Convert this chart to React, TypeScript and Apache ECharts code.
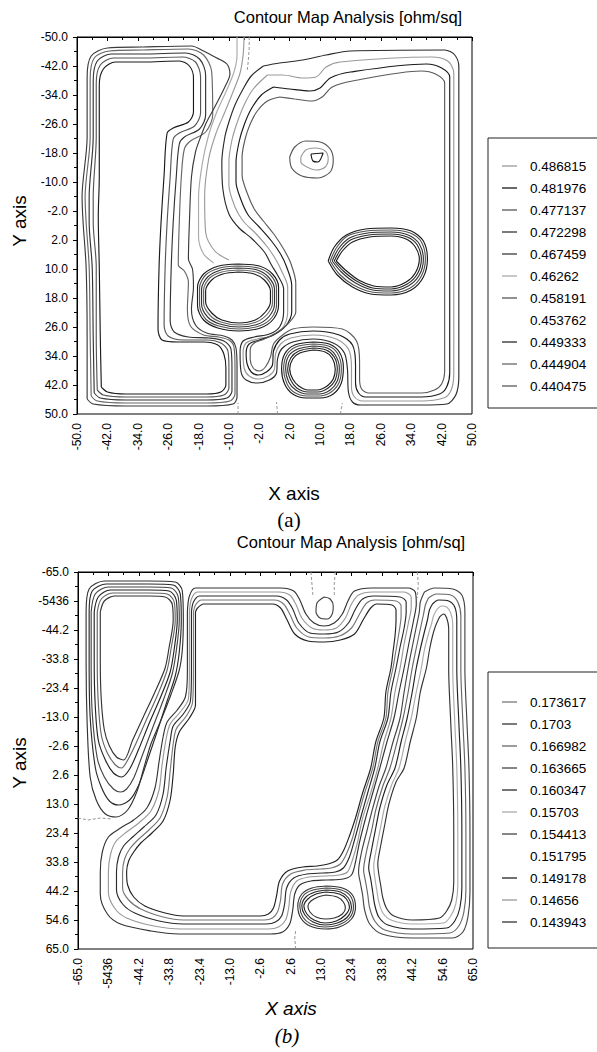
import React, { useEffect, useRef } from "react";
import * as echarts from "echarts";

// ---------- tick labels ----------
const A_X_LABELS = ["-50.0", "-42.0", "-34.0", "-26.0", "-18.0", "-10.0", "-2.0", "2.0", "10.0", "18.0", "26.0", "34.0", "42.0", "50.0"];
const A_Y_LABELS = ["-50.0", "-42.0", "-34.0", "-26.0", "-18.0", "-10.0", "-2.0", "2.0", "10.0", "18.0", "26.0", "34.0", "42.0", "50.0"];
const B_X_LABELS = ["-65.0", "-5436", "-44.2", "-33.8", "-23.4", "-13.0", "-2.6", "2.6", "13.0", "23.4", "33.8", "44.2", "54.6", "65.0"];
const B_Y_LABELS = ["-65.0", "-5436", "-44.2", "-33.8", "-23.4", "-13.0", "-2.6", "2.6", "13.0", "23.4", "33.8", "44.2", "54.6", "65.0"];

// ---------- contour levels (legend) ----------
const A_LEVELS = ["0.486815", "0.481976", "0.477137", "0.472298", "0.467459", "0.46262", "0.458191", "0.453762", "0.449333", "0.444904", "0.440475"];
const A_LEVEL_COLORS = ["#9a9a9a", "#1a1a1a", "#555555", "#333333", "#3a3a3a", "#aaaaaa", "#555555", "#ffffff", "#2a2a2a", "#666666", "#5a5a5a"];
const B_LEVELS = ["0.173617", "0.1703", "0.166982", "0.163665", "0.160347", "0.15703", "0.154413", "0.151795", "0.149178", "0.14656", "0.143943"];
const B_LEVEL_COLORS = ["#777777", "#333333", "#666666", "#444444", "#2a2a2a", "#aaaaaa", "#444444", "#ffffff", "#222222", "#999999", "#333333"];

// ---------- chart (a) contour lines, in grid units (30 per x label step, 29 per y label step) ----------
const A_LG1 = [[24,350],[23,300],[22,230],[21,180],[22,140],[22,90],[22,48],[26,32],[38,25],[65,25],[101,24],[111,29],[115,41],[115,75],[110,85],[95,91],[89,96],[86,138],[83,185],[81,231],[80,292],[84,303],[100,305],[125,305],[139,308],[145,317],[147,331],[147,348],[142,355],[128,357],[48,357],[30,355],[24,350]];
const A_LG2 = [[20,353],[19,300],[19,230],[16,185],[16,160],[19,100],[19,46],[23,28],[36,21],[65,21],[104,20],[117,25],[122,40],[122,76],[116,89],[101,96],[95,102],[92,140],[89,185],[87,231],[86,288],[90,299],[105,303],[128,303],[142,306],[149,314],[150,331],[150,351],[145,358],[128,360],[48,360],[26,358],[20,353]];
const A_LG3 = [[17,356],[16,300],[15,230],[12,185],[12,160],[16,100],[16,44],[20,24],[34,17],[65,17],[107,16],[121,22],[127,38],[127,78],[121,92],[106,100],[101,107],[98,140],[95,185],[93,231],[92,284],[96,295],[110,300],[130,301],[145,304],[152,312],[153,331],[153,354],[148,361],[128,363],[48,363],[23,361],[17,356]];
const A_LG4 = [[14,359],[13,300],[12,230],[9,185],[8,160],[13,100],[13,42],[17,21],[32,14],[65,13],[110,12],[125,18],[133,35],[134,78],[127,95],[112,104],[106,112],[103,140],[101,185],[100,228],[106,234],[110,245],[109,272],[112,289],[125,298],[140,300],[150,303],[155,310],[156,331],[156,357],[151,364],[128,366],[48,366],[20,364],[14,359]];
const A_LG5 = [[10,362],[10,300],[9,230],[6,185],[5,160],[10,100],[10,40],[14,19],[30,11],[65,10],[113,9],[125,14],[138,21],[148,27],[151,37],[146,50],[136,70],[128,85],[122,100],[117,115],[113,140],[111,185],[110,222],[114,232],[115,250],[113,272],[117,288],[128,296],[145,299],[153,303],[157,311],[158,331],[158,360],[154,367],[128,369],[48,369],[16,367],[10,362]];
const A_RG1 = [[184,29],[200,26],[223,23],[246,18],[270,14],[363,13],[373,18],[377,30],[377,340],[374,358],[365,367],[340,368],[280,368],[272,365],[268,355],[267,332],[264,316],[253,306],[233,302],[213,305],[202,312],[198,322],[197,336],[190,343],[178,346],[167,343],[162,335],[161,315],[164,304],[175,300],[190,297],[200,290],[204,275],[204,252],[198,238],[192,228],[185,215],[172,201],[160,191],[150,177],[144,152],[143,125],[146,100],[150,85],[156,68],[164,52],[172,39],[184,29]];
const A_RG2 = [[188,38],[203,38],[223,41],[236,40],[246,30],[260,25],[350,20],[366,24],[372,36],[372,338],[369,354],[362,361],[340,364],[282,364],[274,360],[271,350],[271,330],[268,312],[256,302],[233,298],[211,301],[201,307],[196,317],[195,332],[189,339],[179,342],[170,339],[165,331],[164,316],[167,306],[178,302],[192,299],[203,291],[208,275],[208,250],[202,234],[196,222],[188,210],[176,196],[164,184],[156,170],[150,148],[150,125],[153,103],[158,86],[165,68],[174,52],[188,38]];
const A_RG3 = [[194,50],[210,52],[230,54],[240,51],[250,41],[270,35],[345,27],[360,31],[368,40],[368,336],[365,350],[358,357],[340,360],[285,360],[278,356],[275,346],[275,328],[272,308],[259,298],[233,294],[210,297],[200,303],[194,314],[193,328],[187,335],[179,338],[172,335],[168,327],[167,316],[170,307],[180,303],[194,298],[206,289],[212,275],[212,248],[207,230],[201,217],[192,204],[180,190],[169,178],[162,163],[157,145],[157,125],[160,105],[165,88],[172,72],[182,58],[194,50]];
const A_RG4 = [[200,60],[215,62],[232,64],[242,60],[252,50],[272,44],[340,34],[354,37],[363,46],[363,334],[360,347],[353,353],[340,356],[288,356],[281,352],[279,342],[279,325],[276,304],[262,292],[233,290],[213,292],[203,298],[194,307],[191,320],[186,330],[180,334],[174,331],[171,322],[171,313],[175,306],[185,302],[198,295],[209,286],[216,275],[216,246],[211,226],[204,212],[195,198],[184,184],[175,172],[168,156],[163,138],[163,120],[166,102],[171,87],[178,74],[188,64],[200,60]];
const A_M1 = [[158,0],[158,18],[155,35],[147,55],[138,75],[130,98],[124,125],[120,160],[120,200],[125,217],[135,226]];
const A_M2 = [[165,0],[164,18],[161,36],[154,55],[146,75],[137,97],[130,122],[126,160],[127,195],[136,214],[150,223]];
const A_C1A = [[159,227],[180,229],[193,237],[199,250],[199,268],[194,282],[181,291],[160,294],[139,291],[125,283],[119,269],[119,250],[125,237],[140,229],[159,227]];
const A_C1B = [[159,229],[179,231],[191,238],[197,251],[197,268],[192,281],[180,289],[160,292],[140,289],[127,282],[121,268],[121,251],[127,238],[141,231],[159,229]];
const A_C1C = [[159,231],[178,233],[189,240],[195,252],[195,267],[190,279],[179,287],[160,290],[141,287],[129,280],[123,267],[123,252],[129,240],[142,233],[159,231]];
const A_C1D = [[159,233],[177,235],[187,241],[193,253],[193,266],[188,277],[177,285],[160,288],[142,285],[131,278],[125,266],[125,253],[131,241],[143,235],[159,233]];
const A_C1E = [[159,235],[175,237],[185,243],[191,254],[191,265],[186,275],[176,283],[160,286],[143,283],[133,276],[127,265],[127,254],[133,243],[144,237],[159,235]];
const A_C2A = [[233,305],[249,307],[259,315],[263,330],[261,346],[253,357],[240,361],[226,361],[213,357],[205,347],[202,332],[205,317],[215,308],[233,305]];
const A_C2B = [[233,307],[248,309],[257,316],[261,331],[259,345],[251,355],[239,359],[227,359],[214,355],[207,346],[204,332],[207,318],[216,310],[233,307]];
const A_C2C = [[233,309],[247,311],[255,318],[259,331],[257,344],[250,353],[239,357],[227,357],[216,353],[209,345],[206,332],[209,319],[218,312],[233,309]];
const A_C2D = [[233,311],[246,313],[254,320],[257,332],[255,343],[248,351],[238,355],[228,355],[217,351],[211,343],[208,332],[211,321],[219,314],[233,311]];
const A_C2E = [[233,313],[245,315],[252,321],[255,332],[253,342],[247,349],[237,353],[228,353],[219,349],[213,342],[210,332],[213,322],[220,316],[233,313]];
const A_EA = [[248,224],[254,210],[266,198],[285,192],[310,191],[330,194],[342,204],[346,222],[342,240],[330,253],[310,258],[290,257],[272,250],[257,238],[248,224]];
const A_EB = [[250,224],[256,211],[267,199],[286,194],[310,193],[329,196],[340,205],[344,222],[340,239],[329,251],[310,256],[291,255],[273,248],[259,237],[250,224]];
const A_EC = [[252,224],[258,212],[269,201],[287,196],[310,195],[327,198],[338,207],[342,222],[338,238],[327,249],[310,254],[292,253],[275,246],[261,235],[252,224]];
const A_ED = [[254,224],[260,213],[270,203],[288,198],[310,197],[326,200],[336,208],[340,222],[336,237],[326,247],[310,252],[292,251],[276,244],[263,234],[254,224]];
const A_EE = [[256,224],[262,214],[272,205],[289,200],[310,199],[325,202],[334,210],[338,222],[334,236],[325,245],[310,250],[293,249],[278,243],[265,233],[256,224]];
const A_PA = [[210,120],[215,110],[226,104],[240,105],[250,112],[253,123],[250,135],[238,141],[222,139],[212,131],[210,120]];
const A_PB = [[221,120],[226,113],[235,111],[245,114],[248,122],[245,130],[236,133],[227,130],[221,125],[221,120]];
const A_PC = [[231,117],[243,116],[238,125],[233,124],[231,117]];
const A_DASHES = [
  [[170,0],[170,12],[169,25],[168,34]],
  [[159,377],[159,366]],
  [[198,377],[197,365]],
  [[260,377],[262,366]],
];

// ---------- chart (b) contour lines ----------
const B_TD1 = [[22,40],[26,29],[36,24],[70,24],[86,25],[93,32],[94,48],[90,75],[86,96],[76,120],[64,146],[54,168],[45,188],[38,185],[31,174],[26,158],[23,128],[22,90],[22,40]];
const B_TD2 = [[19,40],[23,27],[34,21],[70,21],[88,22],[95,30],[96,48],[92,76],[88,98],[79,122],[67,149],[57,172],[48,190],[43,196],[37,193],[29,181],[23,163],[20,130],[19,90],[19,40]];
const B_TD3 = [[16,40],[20,25],[32,18],[70,18],[90,19],[97,28],[98,48],[95,77],[91,100],[82,124],[70,152],[60,177],[51,197],[43,205],[35,201],[27,188],[20,168],[17,133],[16,90],[16,40]];
const B_TD4 = [[13,40],[17,22],[30,15],[70,15],[92,16],[99,25],[100,48],[97,79],[93,102],[85,126],[74,155],[64,182],[55,206],[48,217],[42,220],[35,217],[26,205],[19,186],[14,140],[13,90],[13,40]];
const B_TD5 = [[11,40],[14,19],[28,12],[70,12],[94,13],[101,22],[102,48],[100,80],[96,104],[88,129],[78,160],[68,190],[60,213],[51,228],[40,233],[31,229],[23,215],[17,195],[12,145],[11,90],[11,40]];
const B_TD6 = [[8,40],[11,17],[26,9],[70,9],[96,10],[103,19],[104,48],[103,78],[100,98],[92,122],[82,148],[72,172],[65,196],[58,220],[49,238],[38,245],[27,242],[18,228],[12,205],[9,150],[8,90],[8,40]];
const B_BG1 = [[108,40],[110,24],[116,16],[160,16],[200,16],[213,19],[219,28],[225,42],[233,51],[243,54],[253,51],[261,42],[267,28],[273,19],[290,16],[326,16],[333,20],[334,32],[331,50],[327,70],[322,96],[317,120],[312,146],[305,170],[298,196],[291,221],[284,246],[278,270],[274,290],[270,303],[262,307],[246,308],[230,309],[219,313],[214,322],[212,338],[209,352],[202,360],[190,362],[100,362],[72,359],[42,352],[29,342],[22,322],[22,300],[24,280],[30,265],[42,256],[55,248],[68,236],[76,216],[80,190],[84,165],[88,150],[98,138],[106,125],[108,100],[108,40]];
const B_BG2 = [[110,40],[112,27],[118,20],[160,20],[198,20],[209,23],[215,32],[221,46],[231,56],[243,58],[255,56],[264,46],[270,32],[277,23],[291,20],[322,20],[329,25],[329,35],[326,52],[322,72],[318,96],[313,120],[309,146],[302,170],[296,196],[289,221],[281,246],[276,270],[271,288],[266,300],[258,303],[244,304],[228,305],[216,309],[210,320],[208,336],[205,348],[198,355],[188,357],[102,357],[75,354],[48,346],[36,336],[30,320],[30,300],[32,283],[37,270],[48,260],[60,251],[72,239],[80,218],[83,193],[87,167],[91,152],[101,140],[109,127],[110,100],[110,40]];
const B_BG3 = [[112,40],[114,30],[120,24],[160,24],[196,24],[206,28],[212,37],[218,51],[229,61],[243,62],[257,60],[267,51],[274,37],[281,27],[292,24],[318,25],[324,30],[324,40],[322,56],[318,75],[314,96],[309,120],[306,146],[298,170],[293,196],[286,221],[279,246],[273,268],[268,285],[262,296],[254,300],[242,301],[226,302],[213,306],[206,316],[204,332],[201,344],[195,350],[186,352],[104,352],[80,349],[56,341],[44,332],[38,318],[38,300],[40,285],[45,274],[54,265],[65,255],[77,243],[84,222],[87,196],[91,169],[94,154],[104,142],[111,129],[112,100],[112,40]];
const B_BG4 = [[114,40],[116,33],[122,28],[160,28],[194,28],[203,32],[209,42],[216,56],[228,65],[243,66],[258,64],[270,56],[278,42],[285,31],[293,28],[314,29],[319,34],[319,44],[317,60],[314,78],[311,96],[306,120],[304,146],[296,170],[291,196],[283,221],[276,246],[271,266],[265,282],[259,292],[250,296],[239,297],[224,298],[210,302],[202,312],[200,328],[197,340],[192,346],[184,348],[104,348],[84,345],[62,337],[50,328],[44,316],[44,300],[46,287],[51,277],[59,268],[70,258],[81,246],[88,225],[91,199],[94,172],[97,157],[107,144],[113,131],[114,100],[114,40]];
const B_BG5 = [[116,40],[118,36],[124,32],[160,32],[192,32],[200,36],[206,47],[214,62],[227,69],[243,70],[259,68],[273,62],[282,47],[289,36],[295,32],[310,33],[314,38],[314,48],[313,64],[311,80],[309,96],[304,120],[302,146],[294,170],[289,196],[281,221],[274,246],[268,264],[262,279],[256,288],[247,292],[236,294],[222,295],[207,299],[199,309],[196,324],[193,336],[188,342],[180,344],[104,344],[86,341],[66,334],[55,325],[49,313],[48,300],[50,289],[55,280],[62,271],[73,261],[84,249],[91,228],[94,202],[96,175],[100,160],[110,146],[116,133],[116,100],[116,40]];
const B_RR1 = [[342,20],[352,16],[370,17],[379,23],[382,40],[382,96],[384,150],[386,196],[387,260],[387,320],[385,345],[380,360],[370,366],[330,366],[300,362],[288,352],[283,338],[281,323],[279,312],[277,300],[280,280],[285,260],[290,240],[297,215],[304,196],[311,170],[318,146],[322,120],[326,96],[330,75],[334,55],[337,40],[338,30],[342,20]];
const B_RR2 = [[346,26],[354,22],[368,23],[375,30],[378,44],[378,96],[380,150],[382,196],[383,260],[383,318],[381,340],[376,354],[367,361],[330,362],[303,358],[293,349],[288,336],[286,322],[284,310],[282,298],[285,279],[290,258],[294,238],[301,214],[308,196],[315,170],[321,146],[326,120],[330,96],[334,76],[338,57],[341,43],[343,33],[346,26]];
const B_RR3 = [[350,32],[356,28],[366,29],[372,35],[374,48],[374,96],[376,150],[378,196],[379,260],[379,316],[377,336],[372,349],[364,356],[330,357],[306,353],[297,345],[293,333],[291,320],[289,307],[287,296],[290,277],[294,256],[298,236],[305,213],[313,196],[319,170],[325,146],[330,120],[334,96],[338,77],[342,60],[345,48],[347,38],[350,32]];
const B_RR4 = [[354,38],[359,34],[364,35],[368,41],[370,52],[370,96],[372,150],[374,196],[375,260],[375,313],[373,332],[368,344],[361,351],[330,352],[309,348],[301,341],[297,330],[295,318],[293,305],[292,294],[295,275],[299,254],[303,234],[310,212],[317,196],[323,170],[329,146],[334,120],[339,96],[342,78],[346,62],[349,52],[351,44],[354,38]];
const B_RR5 = [[357,45],[361,42],[364,46],[366,56],[366,96],[368,150],[370,196],[371,260],[371,310],[369,328],[364,339],[357,346],[330,348],[312,344],[305,337],[301,326],[299,314],[297,302],[296,292],[299,273],[303,252],[307,232],[314,210],[322,196],[328,170],[334,146],[338,120],[344,96],[347,78],[350,64],[353,54],[357,45]];
const B_BC1 = [[245,314],[261,316],[271,323],[274,335],[270,347],[258,355],[244,357],[229,354],[220,346],[217,334],[221,322],[231,316],[245,314]];
const B_BC2 = [[245,316],[260,318],[269,324],[272,335],[268,346],[257,353],[244,355],[230,352],[222,345],[219,334],[223,323],[232,318],[245,316]];
const B_BC3 = [[245,318],[259,320],[267,326],[270,335],[266,345],[256,351],[244,353],[232,350],[224,343],[221,334],[225,325],[234,320],[245,318]];
const B_BC4 = [[245,320],[258,322],[265,327],[268,335],[264,343],[255,349],[244,351],[233,348],[226,342],[223,334],[227,327],[235,322],[245,320]];
const B_BC5 = [[245,323],[256,325],[262,330],[264,336],[261,342],[253,346],[244,347],[235,345],[229,340],[227,334],[230,329],[237,325],[245,323]];
const B_TC = [[243,25],[249,27],[252,34],[251,42],[246,47],[239,46],[235,40],[236,31],[243,25]];
const B_DASHES = [
  [[230,0],[231,12],[232,24]],
  [[254,0],[253,12],[253,24]],
  [[335,0],[336,12],[335,26]],
  [[215,377],[214,366],[215,358]],
  [[0,246],[10,248],[22,246],[34,247]],
];

// [path, level index]
const A_CONTOURS: [number[][], number][] = [
  [A_LG1, 1], [A_LG2, 6], [A_LG3, 3], [A_LG4, 9], [A_LG5, 4],
  [A_RG1, 8], [A_RG2, 0], [A_RG3, 1], [A_RG4, 10],
  [A_M1, 5], [A_M2, 0],
  [A_C1A, 1], [A_C1B, 2], [A_C1C, 3], [A_C1D, 9], [A_C1E, 1],
  [A_C2A, 1], [A_C2B, 6], [A_C2C, 3], [A_C2D, 8], [A_C2E, 1],
  [A_EA, 1], [A_EB, 2], [A_EC, 3], [A_ED, 8], [A_EE, 1],
  [A_PA, 6], [A_PB, 0], [A_PC, 1],
];
const B_CONTOURS: [number[][], number][] = [
  [B_TD1, 1], [B_TD2, 2], [B_TD3, 8], [B_TD4, 3], [B_TD5, 4], [B_TD6, 10],
  [B_BG1, 1], [B_BG2, 9], [B_BG3, 4], [B_BG4, 0], [B_BG5, 8],
  [B_RR1, 3], [B_RR2, 2], [B_RR3, 8], [B_RR4, 5], [B_RR5, 1],
  [B_BC1, 1], [B_BC2, 6], [B_BC3, 4], [B_BC4, 8], [B_BC5, 1],
  [B_TC, 3],
];

const SANS = '"Liberation Sans", Arial, Helvetica, sans-serif';
const SERIF = '"Liberation Serif", "Times New Roman", serif';

function makeAxes(gi: number, xLabels: string[], yLabels: string[]) {
  const common = {
    gridIndex: gi,
    type: "value" as const,
    axisLine: { show: true, lineStyle: { color: "#000", width: 1 } },
    axisTick: { show: true, length: 4, lineStyle: { color: "#000", width: 1 } },
    minorTick: { show: true, splitNumber: 2, length: 3, lineStyle: { color: "#000", width: 1 } },
    splitLine: { show: false },
    minorSplitLine: { show: false },
  };
  const x = {
    ...common,
    min: 0,
    max: 390,
    interval: 30,
    axisLabel: {
      rotate: 90,
      margin: 9,
      fontSize: 12,
      fontFamily: SANS,
      color: "#000",
      formatter: (v: number) => xLabels[Math.round(v / 30)] ?? "",
    },
  };
  const y = {
    ...common,
    min: 0,
    max: 377,
    interval: 29,
    inverse: true,
    axisLabel: {
      margin: 9,
      fontSize: 12,
      fontFamily: SANS,
      color: "#000",
      formatter: (v: number) => yLabels[Math.round(v / 29)] ?? "",
    },
  };
  return { x, y };
}

function contourSeries(list: [number[][], number][], colors: string[], gi: number) {
  return list.map(([pts, lvl]) => ({
    type: "line",
    xAxisIndex: gi,
    yAxisIndex: gi,
    data: pts,
    symbol: "none",
    showSymbol: false,
    smooth: 0.3,
    silent: true,
    lineStyle: { color: colors[lvl], width: 1.15 },
    z: 3,
  }));
}

function dashSeries(list: number[][][], gi: number) {
  return list.map((pts) => ({
    type: "line",
    xAxisIndex: gi,
    yAxisIndex: gi,
    data: pts,
    symbol: "none",
    showSymbol: false,
    silent: true,
    lineStyle: { color: "#8a8a8a", width: 0.9, type: [3, 2] },
    z: 2,
  }));
}

function legendGraphic(x: number, y: number, h: number, firstRow: number, levels: string[], colors: string[]) {
  const children: any[] = [
    { type: "rect", shape: { x, y, width: 130, height: h }, style: { fill: "#fff", stroke: "#222", lineWidth: 1 } },
  ];
  levels.forEach((lv, i) => {
    const yy = firstRow + i * 22;
    children.push({
      type: "line",
      shape: { x1: x + 14, y1: yy, x2: x + 29, y2: yy },
      style: { stroke: colors[i], lineWidth: 1.3 },
    });
    children.push({
      type: "text",
      x: x + 42,
      y: yy,
      style: { text: lv, fill: "#000", fontSize: 13.5, fontFamily: SANS, align: "left", verticalAlign: "middle" },
    });
  });
  return { type: "group", children };
}

function label(text: string, x: number, y: number, size: number, family: string, opts: any = {}) {
  return {
    type: "text",
    x,
    y,
    rotation: opts.rotation ?? 0,
    style: {
      text,
      fill: "#000",
      fontSize: size,
      fontFamily: family,
      fontStyle: opts.italic ? "italic" : "normal",
      fontWeight: opts.bold ? "bold" : "normal",
      align: "center",
      verticalAlign: "middle",
    },
  };
}

export default function App() {
  const ref = useRef<HTMLDivElement>(null);
  useEffect(() => {
    if (!ref.current) return;
    const chart = echarts.init(ref.current, undefined, { renderer: "svg" });
    const a = makeAxes(0, A_X_LABELS, A_Y_LABELS);
    const b = makeAxes(1, B_X_LABELS, B_Y_LABELS);
    chart.setOption({
      animation: false,
      backgroundColor: "#fff",
      grid: [
        { left: 77, top: 37, width: 395, height: 377, show: true, borderColor: "#000", borderWidth: 1, backgroundColor: "transparent" },
        { left: 78, top: 572, width: 395, height: 377, show: true, borderColor: "#000", borderWidth: 1, backgroundColor: "transparent" },
      ],
      xAxis: [a.x, b.x],
      yAxis: [a.y, b.y],
      series: [
        ...contourSeries(A_CONTOURS, A_LEVEL_COLORS, 0),
        ...dashSeries(A_DASHES, 0),
        ...contourSeries(B_CONTOURS, B_LEVEL_COLORS, 1),
        ...dashSeries(B_DASHES, 1),
      ],
      graphic: [
        label("Contour Map Analysis [ohm/sq]", 348, 17, 16.5, SANS),
        label("Contour Map Analysis [ohm/sq]", 351, 542, 16.5, SANS),
        label("Y axis", 19, 221, 19, SANS, { rotation: Math.PI / 2 }),
        label("Y axis", 19, 763, 19, SANS, { rotation: Math.PI / 2 }),
        label("X axis", 294, 493, 19, SANS),
        label("X axis", 291, 1008, 19, SANS, { italic: true }),
        label("(a)", 289, 520, 21, SERIF),
        label("(b)", 287, 1036, 21, SERIF, { italic: true }),
        legendGraphic(488, 138, 270, 166, A_LEVELS, A_LEVEL_COLORS),
        legendGraphic(488, 672, 276, 702, B_LEVELS, B_LEVEL_COLORS),
      ],
    });
    return () => chart.dispose();
  }, []);
  return <div ref={ref} style={{ position: "absolute", left: 0, top: 0, width: 597, height: 1052 }} />;
}
